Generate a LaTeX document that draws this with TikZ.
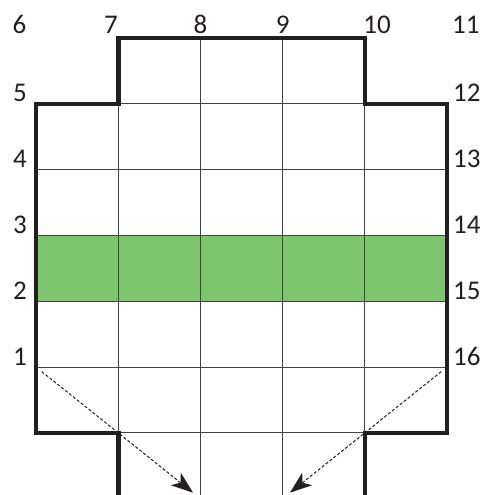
\documentclass[tikz,border=0pt]{standalone}
\usepackage{fontspec}
\setmainfont{Carlito}
\usetikzlibrary{arrows.meta}
\definecolor{cBand}{HTML}{7DC56E}
\definecolor{cInk}{HTML}{231F20}
\tikzset{
  gridln/.style={draw=cInk!85,line width=0.9bp},
  wall/.style  ={draw=cInk,line width=4.6bp,line join=miter},
  mv/.style    ={-{Stealth[length=22bp,width=16bp,inset=6bp,line width=0pt]},draw=cInk,
                 line width=1bp,dash pattern=on 3bp off 2bp},
  num/.style   ={font=\fontsize{27bp}{30bp}\selectfont,inner sep=0pt,text=cInk},
}

\begin{document}
\begin{tikzpicture}[x=82.2bp,y=-65.8bp]
\useasboundingbox (-0.438,-0.578) rectangle (5.438,6.945);

% ===== coloured band =======================================================
\fill[cBand] (0,3) rectangle (5,4);

% ===== thin grid ===========================================================
\foreach \r in {2,...,5} \draw[gridln] (0,\r) -- (5,\r);
\foreach \r in {1,6} \draw[gridln] (1,\r) -- (4,\r);
\foreach \c in {2,3} \draw[gridln] (\c,0) -- (\c,7.2);
\foreach \c in {1,4} \draw[gridln] (\c,1) -- (\c,6);

% ===== outline =============================================================
\draw[wall] (1,7.2) -- (1,6) -- (0,6) -- (0,1) -- (1,1) -- (1,0) -- (4,0)
  -- (4,1) -- (5,1) -- (5,6) -- (4,6) -- (4,7.2);

% ===== numbers =============================================================
\foreach \n/\r in {5/1,4/2,3/3,2/4,1/5}
  \node[num,anchor=base east] (n\n) at (-0.11,\r-0.03) {\n};
\foreach \n/\r in {12/1,13/2,14/3,15/4,16/5}
  \node[num,anchor=base west] (n\n) at (5.073,\r-0.03) {\n};
\foreach \n/\c in {6/-0.2,7/0.912,8/2,9/3,10/4.15,11/5.23}
  \node[num,anchor=base] (n\n) at (\c,-0.076) {\n};

% ===== dashed moves ========================================================
\coordinate (sL) at (0.07,5.07);
\coordinate (eL) at (1.91,6.91);
\coordinate (sR) at (4.93,5.07);
\coordinate (eR) at (3.09,6.91);
\draw[mv] (sL) -- (eL);
\draw[mv] (sR) -- (eR);
\end{tikzpicture}
\end{document}
